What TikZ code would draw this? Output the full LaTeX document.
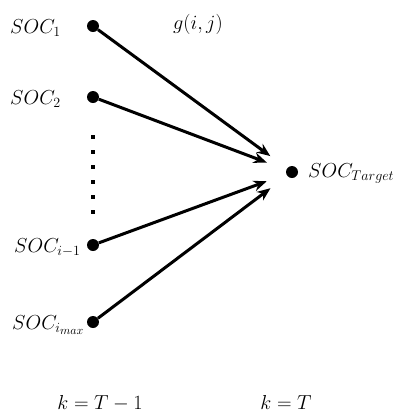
\documentclass[tikz,border=0pt]{standalone}
\usetikzlibrary{arrows.meta,positioning}

\begin{document}
\begin{tikzpicture}[
    x=0.03cm, y=-0.03cm,
    state/.style={circle, fill=black, inner sep=0pt, minimum size=0.36cm},
    lbl/.style={font=\LARGE, inner sep=0pt},
    link/.style={-{Stealth[length=0.4cm, width=0.32cm]}, line width=0.09cm, shorten >=0.62cm},
    >=Stealth
]
\useasboundingbox (0,0) rectangle (409,413);

% stage k = T-1
\node[state] (s1) at (93,26) {};
\node[state] (s2) at (93,97) {};
\node[state] (si) at (93,245) {};
\node[state] (sm) at (93,322) {};

\node[lbl, anchor=base west] (l1) at (10,33) {$SOC_1$};
\node[lbl, anchor=base west] (l2) at (10,104) {$SOC_2$};
\node[lbl, anchor=base west] (li) at (14,252) {$SOC_{i-1}$};
\node[lbl, anchor=base west] (lm) at (12,329) {$SOC_{i_{max}}$};

% stage k = T
\node[state] (target) at (292,172) {};
\node[lbl, anchor=base west] (lt) at (308,177) {$SOC_{Target}$};

\node[lbl, anchor=base] (cost) at (198,29) {$g(i,j)$};

% omitted states
\draw[line width=0.12cm, dash pattern=on 0.12cm off 0.33cm, shorten <=0.96cm, shorten >=0.66cm] (s2) -- (si);

\draw[link] (s1) -- (target);
\draw[link] (s2) -- (target);
\draw[link] (si) -- (target);
\draw[link] (sm) -- (target);

\node[lbl, anchor=base] (kprev) at (100,409) {$k = T-1$};
\node[lbl, anchor=base] (klast) at (286,409) {$k = T$};
\end{tikzpicture}
\end{document}
